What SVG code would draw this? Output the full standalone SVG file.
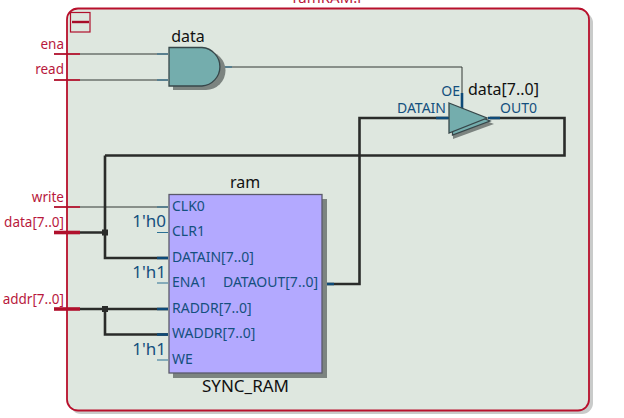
<svg xmlns="http://www.w3.org/2000/svg" width="624" height="418" viewBox="0 0 624 418">
<style>
text{font-family:"Noto Sans","Open Sans","DejaVu Sans",sans-serif}
.r{fill:#b8183c;font-size:13.5px}
.k{fill:#111;font-size:16px}
.p{fill:#14507e;font-size:14px}
.c{fill:#14507e;font-size:17px}
.t{fill:none;stroke:#333835;stroke-width:1}
.T{fill:none;stroke:#2a2c2a;stroke-width:2.6}
.s{stroke:#2a7094;stroke-width:1.2;fill:none}
.S{stroke:#0e4a78;stroke-width:2.6;fill:none}
.pr{stroke:#b0102c;stroke-width:1.8;fill:none}
.PR{stroke:#b0102c;stroke-width:3.6;fill:none}
.gate{fill:#74adad;stroke:#37474a;stroke-width:1.3}
.sh{fill:#7c8480}
</style>
<g id="frame">
<rect x="70" y="12" width="523" height="402" rx="11" fill="#c9cbca"/>
<rect x="67" y="8.500" width="522" height="402" rx="11" fill="#dee7df" stroke="#b8102c" stroke-width="1.8"/>
<rect x="70.500" y="12.500" width="19.500" height="19.500" fill="none" stroke="#b0102c" stroke-width="1.2"/>
<line x1="72" x2="89" y1="22" y2="22" stroke="#a80c28" stroke-width="2.4"/>
<text x="328" y="3" text-anchor="middle" fill="#b8183c" font-size="15">ramRAM:r</text>
</g>
<g id="connectors">
<path class="t" d="M80 54H168M80 80H168M222 67H462V93M80 207H168"/>
<path class="T" d="M80 232.500H105M105 155.500V258H168M105 155.500H564.500V118H490M448 118H359.500V284H322M80 309H168M105 309V334.500H168"/>
<rect x="102" y="229.500" width="6" height="6" fill="#2a2c2a"/>
<rect x="102" y="306" width="6" height="6" fill="#2a2c2a"/>
<path class="s" d="M157 54H168M157 80H168M222 67H232M157 207H168M157 232.500H168M157 283H168M157 360H168"/>
<path class="S" d="M157 258H168M157 309H168M157 334.500H168M322 284H334M436 118H449M488 118H500M462 93V109"/>
</g>
<g id="port-ena"><text class="r" x="64" y="49" text-anchor="end">ena</text><path class="pr" d="M54 54H80"/></g>
<g id="port-read"><text class="r" x="64" y="74" text-anchor="end">read</text><path class="pr" d="M54 80H80"/></g>
<g id="port-write"><text class="r" x="64" y="202" text-anchor="end">write</text><path class="pr" d="M54 207H80"/></g>
<g id="port-data"><text class="r" x="64" y="227" text-anchor="end">data[7..0]</text><path class="PR" d="M54 232.500H80"/></g>
<g id="port-addr"><text class="r" x="64" y="304" text-anchor="end">addr[7..0]</text><path class="PR" d="M54 309H80"/></g>
<g id="and-data">
<path class="sh" d="M173 51H206A19.500 19.500 0 0 1 206 90H173Z"/>
<path class="gate" d="M169 47.500H202A19.300 19.300 0 0 1 202 86H169Z"/>
<text class="k" x="188" y="42" text-anchor="middle">data</text>
</g>
<g id="tri-data">
<path class="sh" d="M453 108L494 124L453 139Z"/>
<path class="gate" d="M452.500 106L490 121L452.500 135Z"/>
<path class="gate" d="M449 103L487 118L449 133Z"/>
<text class="p" x="460" y="96" text-anchor="end">OE</text>
<text class="p" x="446" y="113" text-anchor="end">DATAIN</text>
<text class="p" x="500" y="113">OUT0</text>
<text class="k" x="468" y="95">data[7..0]</text>
</g>
<g id="ram">
<rect x="173" y="199" width="154" height="179" class="sh"/>
<rect x="169" y="194.500" width="153" height="178.500" fill="#b3a9ff" stroke="#5a5a6a" stroke-width="1.3"/>
<text class="k" x="245" y="188" text-anchor="middle">ram</text>
<text class="k" x="245.500" y="392" text-anchor="middle" style="font-size:17px">SYNC_RAM</text>
<text class="p" x="172" y="211">CLK0</text>
<text class="p" x="172" y="236">CLR1</text>
<text class="p" x="172" y="262">DATAIN[7..0]</text>
<text class="p" x="172" y="287">ENA1</text>
<text class="p" x="318" y="287" text-anchor="end">DATAOUT[7..0]</text>
<text class="p" x="172" y="313">RADDR[7..0]</text>
<text class="p" x="172" y="338">WADDR[7..0]</text>
<text class="p" x="172" y="364">WE</text>
<text class="c" x="166" y="227" text-anchor="end">1'h0</text>
<text class="c" x="166" y="278" text-anchor="end">1'h1</text>
<text class="c" x="166" y="355" text-anchor="end">1'h1</text>
</g>
</svg>
